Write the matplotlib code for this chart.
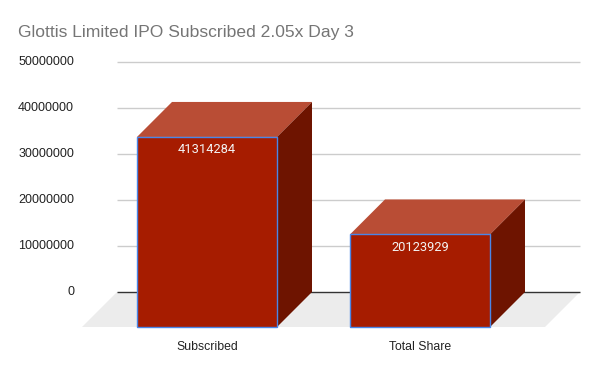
import matplotlib
matplotlib.use("Agg")
import matplotlib.pyplot as plt
from matplotlib.patches import Polygon

categories = ["Subscribed", "Total Share"]
values = [41314284, 20123929]
yticks = [0, 10000000, 20000000, 30000000, 40000000, 50000000]
title = "Glottis Limited IPO Subscribed 2.05x Day 3"

W, H = 600, 371
fig = plt.figure(figsize=(W / 100, H / 100), dpi=100)
ax = fig.add_axes([0, 0, 1, 1])
ax.axis("off")

px_x = 213.0          # pixels per category unit
px_y = 4.6e-6         # pixels per value unit
x0_px = 207.0         # pixel x of first category front center
y0_px = 292.0         # pixel y (from top) of back baseline
ax.set_xlim(-x0_px / px_x, (W - x0_px) / px_x)
ax.set_ylim(-(H - y0_px) / px_y, y0_px / px_y)

depth = 35.0
dx = depth / px_x
D = depth / px_y
bw = 140.0 / px_x

font = "Liberation Sans"

# floor
fl_left = (82 - x0_px) / px_x
fl_right = (545 - x0_px) / px_x
ax.add_patch(Polygon([(fl_left, -D), (fl_right, -D), (fl_right + dx, 0), (fl_left + dx, 0)],
                     closed=True, facecolor="#ececec", edgecolor="none", zorder=1))

# gridlines on back plane
g_left = fl_left + dx
g_right = fl_right + dx
for t in yticks:
    ax.plot([g_left, g_right], [t, t], color="#333333" if t == 0 else "#cccccc",
            lw=1.0, zorder=2, solid_capstyle="butt")
    ax.text((74 - x0_px) / px_x, t, f"{t}", ha="right", va="center",
            fontsize=9, color="#222222", family=font, zorder=3)

# bars
for i, (c, v) in enumerate(zip(categories, values)):
    xl, xr = i - bw / 2, i + bw / 2
    top = Polygon([(xl, v - D), (xr, v - D), (xr + dx, v), (xl + dx, v)], closed=True,
                  facecolor="#b94d35", edgecolor="none", zorder=4)
    side = Polygon([(xr, -D), (xr, v - D), (xr + dx, v), (xr + dx, 0)], closed=True,
                   facecolor="#6e1400", edgecolor="none", zorder=4)
    front = Polygon([(xl, -D), (xr, -D), (xr, v - D), (xl, v - D)], closed=True,
                    facecolor="#a61c00", edgecolor="#4a86e8", lw=1.0, zorder=5)
    ax.add_patch(top)
    ax.add_patch(side)
    ax.add_patch(front)
    ax.text(i, v - D - 13 / px_y, f"{v}", ha="center", va="center", fontsize=9.3,
            color="#f3f3f3", family="Roboto", zorder=6)
    ax.text(i, -D - 19.5 / px_y, c, ha="center", va="center", fontsize=8.8,
            color="#222222", family=font, zorder=6)

fig.text(18 / W, 1 - 32 / H, title, ha="left", va="center", fontsize=12.6,
         color="#757575", family=font)

fig.savefig("out.png", dpi=100)
